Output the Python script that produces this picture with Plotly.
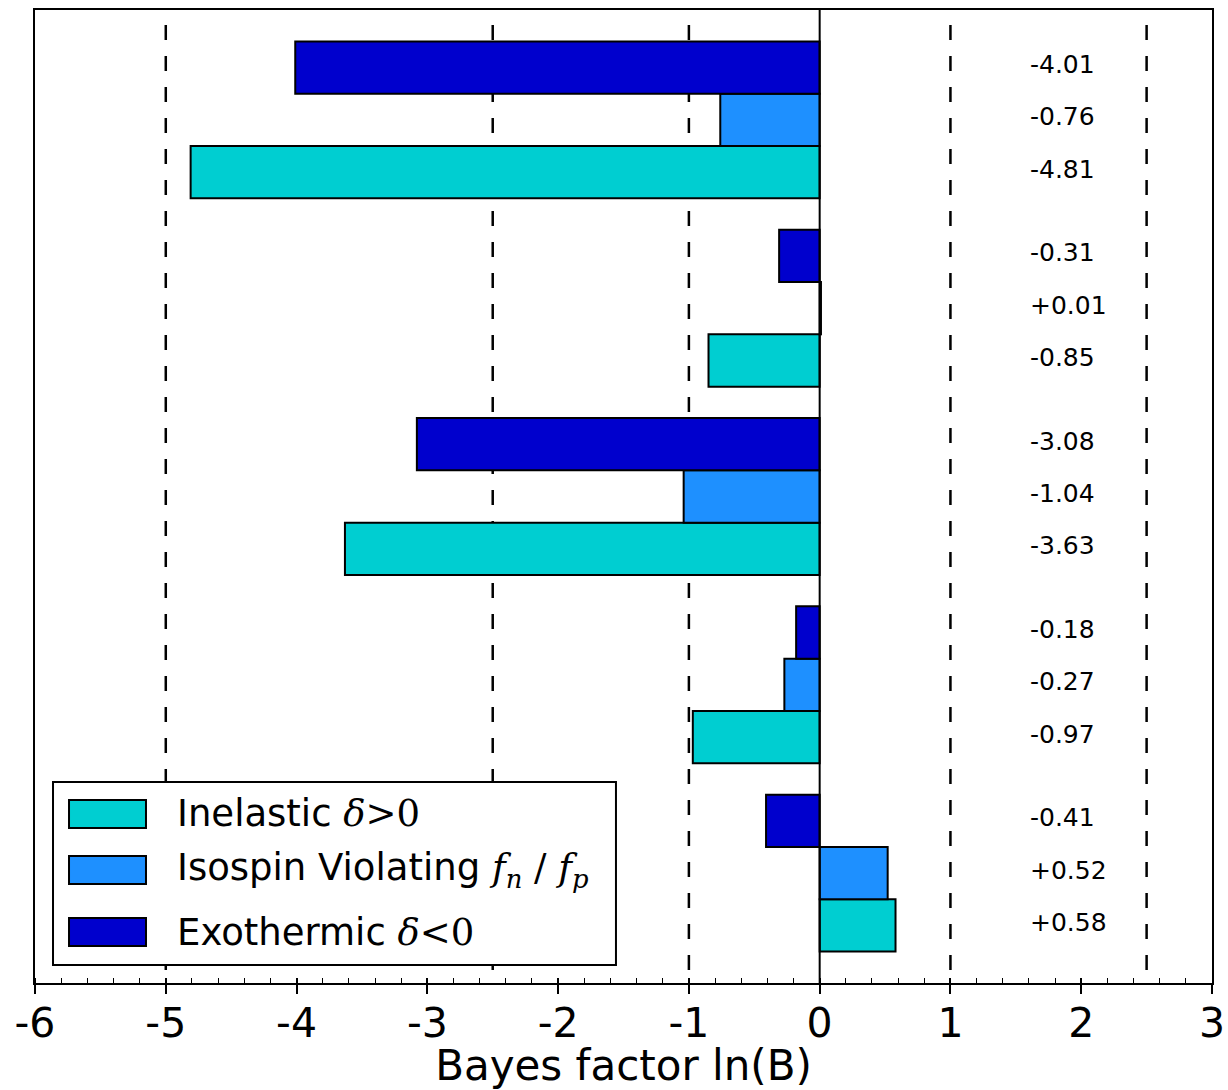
import plotly.graph_objects as go

# ---- data (groups listed top to bottom) ----
series_names = ["Inelastic", "Isospin Violating", "Exothermic"]
exothermic = [-4.01, -0.31, -3.08, -0.18, -0.41]
isospin = [-0.76, 0.01, -1.04, -0.27, 0.52]
inelastic = [-4.81, -0.85, -3.63, -0.97, 0.58]
x_ticks = [-6, -5, -4, -3, -2, -1, 0, 1, 2, 3]
x_tick_labels = ["-6", "-5", "-4", "-3", "-2", "-1", "0", "1", "2", "3"]
dashed_refs = [-5, -2.5, -1, 1, 2.5]

colors = {"Inelastic": "#00CED1", "Isospin Violating": "#1E90FF", "Exothermic": "#0000CD"}

n_groups = len(exothermic)
GAP = 0.6
PITCH = 3 + GAP
Y_MAX = n_groups * 3 + (n_groups + 1) * GAP


def group_bottom(i):
    k = n_groups - 1 - i
    return GAP + k * PITCH


y_inel = [group_bottom(i) + 0.5 for i in range(n_groups)]
y_iso = [group_bottom(i) + 1.5 for i in range(n_groups)]
y_exo = [group_bottom(i) + 2.5 for i in range(n_groups)]

fig = go.Figure()
for name, vals, ys in [("Inelastic", inelastic, y_inel),
                       ("Isospin Violating", isospin, y_iso),
                       ("Exothermic", exothermic, y_exo)]:
    fig.add_trace(go.Bar(
        x=vals, y=ys, orientation="h", width=1.0, name=name,
        marker=dict(color=colors[name], line=dict(color="black", width=2)),
        showlegend=False, hoverinfo="x+name",
    ))

# invisible helper trace for an overlaid bottom axis (inward major ticks)
fig.add_trace(go.Scatter(x=[-6, 3], y=[0, 0], xaxis="x2", mode="markers",
                         marker=dict(opacity=0), showlegend=False, hoverinfo="skip"))

shapes = []
for xv in dashed_refs:
    shapes.append(dict(type="line", xref="x", yref="y", x0=xv, x1=xv, y0=0.25, y1=Y_MAX - 0.25,
                       line=dict(color="black", width=2.5, dash="15px,16px"), layer="below"))
shapes.append(dict(type="line", xref="x", yref="y", x0=0, x1=0, y0=0, y1=Y_MAX,
                   line=dict(color="black", width=2), layer="above"))

# legend box (manual, matplotlib-style)
shapes.append(dict(type="rect", xref="paper", yref="paper", x0=0.0153, x1=0.4936, y0=0.0185, y1=0.2066,
                   fillcolor="white", line=dict(color="black", width=2), layer="above"))
legend_rows = [("Inelastic", 0.1737, 'Inelastic <span style="font-family:\'DejaVu Serif\'"><i>δ</i>&gt;0</span>'),
               ("Isospin Violating", 0.1161, 'Isospin Violating <span style="font-family:\'DejaVu Serif\'"><i>f</i><sub><i>n</i></sub> / <i>f</i><sub><i>p</i></sub></span>'),
               ("Exothermic", 0.0524, 'Exothermic <span style="font-family:\'DejaVu Serif\'"><i>δ</i>&lt;0</span>')]
annotations = []
for name, yc, label in legend_rows:
    h = 0.0144
    shapes.append(dict(type="rect", xref="paper", yref="paper", x0=0.0289, x1=0.0943, y0=yc - h, y1=yc + h,
                       fillcolor=colors[name], line=dict(color="black", width=2), layer="above"))
    annotations.append(dict(xref="paper", yref="paper", x=0.119, y=yc, text=label, showarrow=False,
                            xanchor="left", yanchor="middle",
                            font=dict(family="DejaVu Sans", size=37, color="black")))

# value labels
for vals, ys in [(exothermic, y_exo), (isospin, y_iso), (inelastic, y_inel)]:
    for v, yv in zip(vals, ys):
        annotations.append(dict(xref="x", yref="y", x=1.59, y=yv, text="{:+.2f}".format(v),
                                showarrow=False, xanchor="left", yanchor="middle", yshift=3,
                                font=dict(family="DejaVu Sans", size=25, color="black")))

fig.update_layout(
    width=1228, height=1090,
    margin=dict(l=35, r=16, t=10, b=107),
    plot_bgcolor="white", paper_bgcolor="white",
    barmode="overlay",
    shapes=shapes, annotations=annotations,
    font=dict(family="DejaVu Sans", color="black"),
    xaxis=dict(range=[-6, 3], tickvals=x_ticks, ticktext=x_tick_labels, automargin=False,
               ticks="outside", ticklen=9, tickwidth=1.5, tickcolor="black",
               ticklabelstandoff=-6,
               minor=dict(dtick=0.2, ticks="inside", ticklen=5, tickwidth=1.2, tickcolor="black"),
               showgrid=False, zeroline=False, showline=True, linecolor="black", linewidth=2,
               mirror=True, tickfont=dict(size=41),
               title=dict(text="Bayes factor ln(B)", font=dict(size=42), standoff=0)),
    xaxis2=dict(overlaying="x", side="bottom", range=[-6, 3], tickvals=x_ticks, automargin=False,
                ticks="inside", ticklen=5, tickwidth=1.5, tickcolor="black",
                showticklabels=False, showgrid=False, zeroline=False, showline=False),
    yaxis=dict(range=[0, Y_MAX], showticklabels=False, ticks="", showgrid=False, zeroline=False,
               automargin=False,
               showline=True, linecolor="black", linewidth=2, mirror=True),
)

fig.write_html("out.html")
